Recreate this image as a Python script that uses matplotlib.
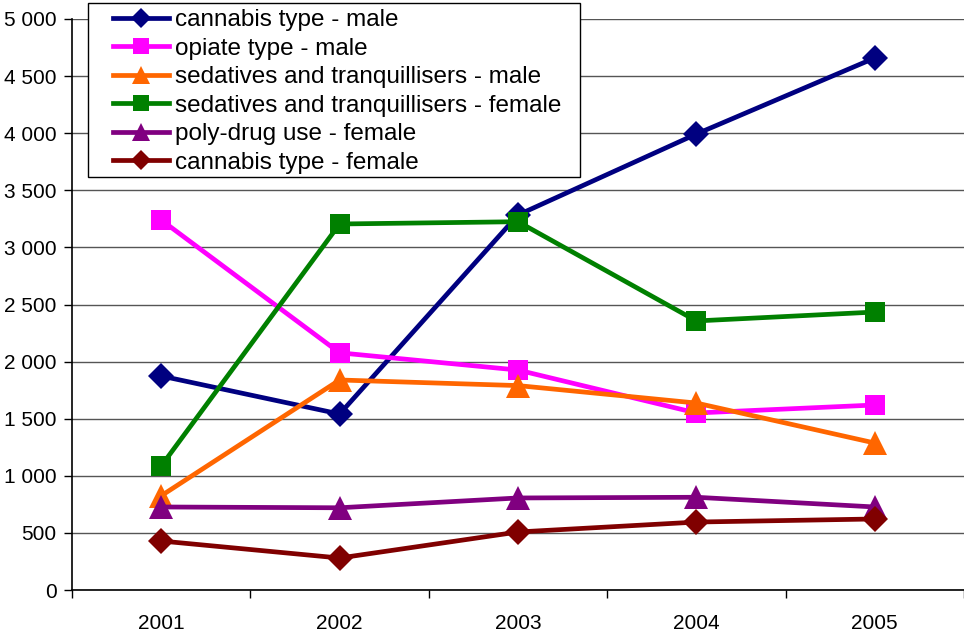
import matplotlib
matplotlib.use("Agg")
import matplotlib.pyplot as plt
from matplotlib.ticker import FuncFormatter, FixedLocator
from matplotlib.patches import Rectangle

plt.rcParams['font.family'] = ['Liberation Sans', 'DejaVu Sans']

years = ["2001", "2002", "2003", "2004", "2005"]
cannabis_male = [1874, 1541, 3284, 3993, 4659]
opiate_male = [3240, 2077, 1926, 1550, 1620]
sedatives_male = [825, 1839, 1790, 1637, 1287]
sedatives_female = [1086, 3205, 3225, 2356, 2434]
polydrug_female = [727, 720, 806, 812, 727]
cannabis_female = [429, 280, 508, 595, 622]

labels = ["cannabis type - male", "opiate type - male",
          "sedatives and tranquillisers - male",
          "sedatives and tranquillisers - female",
          "poly-drug use - female", "cannabis type - female"]
series = [cannabis_male, opiate_male, sedatives_male, sedatives_female,
          polydrug_female, cannabis_female]
colors = ["#000080", "#FF00FF", "#FF6600", "#008000", "#800080", "#800000"]
markers = ["D", "s", "^", "s", "^", "D"]
msizes = [13, 15, 17, 15, 17, 13]

W, H = 964, 632
fig = plt.figure(figsize=(W/100, H/100), dpi=100)
ax = fig.add_axes([72/W, 1 - 590/H, 1 - 72/W, (590 - 19)/H])

x = list(range(len(years)))
handles = []
for s, lab, c, m, ms in zip(series, labels, colors, markers, msizes):
    h, = ax.plot(x, s, color=c, marker=m, markersize=ms, linewidth=3.4,
                 label=lab, clip_on=False, markeredgewidth=0)
    handles.append(h)

ax.set_xlim(-0.5, 4.5)
ax.set_ylim(0, 5000)
ax.set_yticks(range(0, 5001, 500))
ax.yaxis.set_major_formatter(FuncFormatter(lambda v, p: f"{int(v):,}".replace(",", " ")))
ax.grid(axis='y', color='#555555', linewidth=1.0)
ax.set_axisbelow(True)

ax.set_xticks(x)
ax.set_xticklabels(years)
ax.xaxis.set_minor_locator(FixedLocator([-0.5, 0.5, 1.5, 2.5, 3.5, 4.5]))
ax.tick_params(axis='x', which='major', length=0, pad=17, labelsize=15)
ax.tick_params(axis='x', which='minor', length=6, width=1, direction='out')
ax.tick_params(axis='y', which='major', length=6, width=1, direction='out', labelsize=15, pad=5)

for sp in ['top', 'right']:
    ax.spines[sp].set_visible(False)
ax.spines['left'].set_linewidth(1.2)
ax.spines['bottom'].set_linewidth(1.2)

# legend frame
frame = Rectangle((88/W, 1 - 177/H), (580 - 88)/W, (177 - 3)/H,
                  transform=fig.transFigure, facecolor='white', edgecolor='black',
                  linewidth=1.0, zorder=9)
fig.add_artist(frame)

leg = fig.legend(handles=handles, loc='upper left',
                 bbox_to_anchor=(113/W, 1 - 9/H), bbox_transform=fig.transFigure,
                 fontsize=17.5, frameon=False,
                 handlelength=2.3, handletextpad=0.25, labelspacing=0.27,
                 borderpad=0, borderaxespad=0, markerscale=0.75)
leg.set_zorder(10)

fig.savefig("out.png", dpi=100)
